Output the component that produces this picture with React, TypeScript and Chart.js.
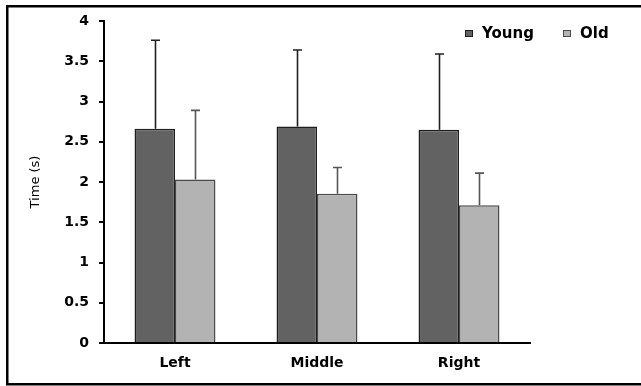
import React, { useEffect, useRef } from "react";
import { Chart, registerables } from "chart.js";

Chart.register(...registerables);

// Mean response time per side, with standard deviations
const categories = ["Left", "Middle", "Right"];
const seriesNames = ["Young", "Old"];
const youngMeans = [2.66, 2.69, 2.65];
const youngSD = [1.1, 0.95, 0.94];
const oldMeans = [2.03, 1.855, 1.71];
const oldSD = [0.86, 0.325, 0.4];
const yMin = 0;
const yMax = 4;
const yStep = 0.5;

const fills = ["#626262", "#b3b3b3"];
const edges = ["#1e1e1e", "#4a4a4a"];
const whiskers = ["#202020", "#555555"];

const errorsByDataset = [youngSD, oldSD];

// Upper error whiskers with a short cap
const errorBarPlugin = {
  id: "errorBars",
  afterDatasetsDraw(chart: any) {
    const { ctx } = chart;
    const y = chart.scales.y;
    chart.data.datasets.forEach((ds: any, di: number) => {
      const meta = chart.getDatasetMeta(di);
      meta.data.forEach((bar: any, i: number) => {
        const v = ds.data[i];
        const e = errorsByDataset[di][i];
        const top = y.getPixelForValue(v + e);
        const base = y.getPixelForValue(v);
        const x = Math.round(bar.x) + 0.5;
        ctx.save();
        ctx.strokeStyle = whiskers[di];
        ctx.lineWidth = 1.6;
        ctx.beginPath();
        ctx.moveTo(x, base);
        ctx.lineTo(x, top);
        ctx.moveTo(x - 4.5, top);
        ctx.lineTo(x + 4.5, top);
        ctx.stroke();
        ctx.restore();
      });
    });
  },
};

// Legend in the upper right plus the outer frame (open on the right)
const decorPlugin = {
  id: "decor",
  afterDraw(chart: any) {
    const { ctx } = chart;
    ctx.save();
    ctx.fillStyle = "#000";
    ctx.fillRect(6, 5, 700, 2.5);
    ctx.fillRect(6, 5, 2.5, 380);
    ctx.fillRect(6, 383, 700, 2.5);

    const itemX = [465, 563];
    ctx.font = "bold 15px 'DejaVu Sans'";
    ctx.textBaseline = "alphabetic";
    ctx.textAlign = "left";
    chart.data.datasets.forEach((ds: any, i: number) => {
      const x = itemX[i];
      ctx.fillStyle = ds.backgroundColor;
      ctx.fillRect(x, 30, 8, 7);
      ctx.strokeStyle = ds.borderColor;
      ctx.lineWidth = 1;
      ctx.strokeRect(x + 0.5, 30.5, 7, 6);
      ctx.fillStyle = "#000";
      ctx.fillText(ds.label, x + 17, 38);
    });
    ctx.restore();
  },
};

export default function App() {
  const ref = useRef<HTMLCanvasElement | null>(null);

  useEffect(() => {
    if (!ref.current) return;
    const chart = new Chart(ref.current, {
      type: "bar",
      data: {
        labels: categories,
        datasets: [
          {
            label: seriesNames[0],
            data: youngMeans,
            backgroundColor: fills[0],
            borderColor: edges[0],
            borderWidth: 1.5,
          },
          {
            label: seriesNames[1],
            data: oldMeans,
            backgroundColor: fills[1],
            borderColor: edges[1],
            borderWidth: 1.5,
          },
        ],
      },
      options: {
        animation: false,
        responsive: true,
        maintainAspectRatio: false,
        layout: { padding: { left: 0, top: 21, right: 111, bottom: 0 } },
        datasets: { bar: { categoryPercentage: 0.57, barPercentage: 1 } },
        plugins: {
          legend: { display: false },
          tooltip: { enabled: false },
        },
        scales: {
          x: {
            grid: { display: false, drawTicks: false },
            border: { color: "#000", width: 2 },
            ticks: {
              color: "#000",
              padding: 12,
              font: { family: "'DejaVu Sans'", size: 14, weight: "bold" },
            },
            afterFit(scale: any) {
              scale.height = 43;
            },
          },
          y: {
            min: yMin,
            max: yMax,
            ticks: {
              stepSize: yStep,
              color: "#000",
              padding: 10,
              font: { family: "'DejaVu Sans'", size: 14, weight: "bold" },
              callback: (value: any) => String(Number(value)),
            },
            grid: {
              drawOnChartArea: false,
              color: "#000",
              lineWidth: 2,
              tickLength: 5,
            },
            border: { color: "#000", width: 2 },
            title: {
              display: true,
              text: "Time (s)",
              color: "#000",
              padding: { top: 28, bottom: 0 },
              font: { family: "'DejaVu Sans'", size: 13 },
            },
            afterFit(scale: any) {
              scale.width = 104;
            },
          },
        },
      },
      plugins: [errorBarPlugin, decorPlugin],
    });
    return () => chart.destroy();
  }, []);

  return (
    <div
      style={{
        position: "fixed",
        left: 0,
        top: 0,
        width: "100vw",
        height: "100vh",
        overflow: "hidden",
        background: "#fff",
      }}
    >
      <canvas ref={ref} />
    </div>
  );
}
